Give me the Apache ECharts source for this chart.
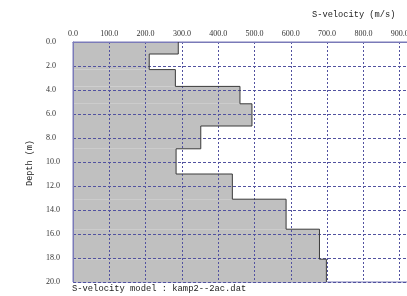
<!DOCTYPE html>
<html>
<head>
<meta charset="utf-8">
<script src="https://cdn.jsdelivr.net/npm/echarts@6/dist/echarts.min.js"></script>
<style>
html,body{margin:0;padding:0;background:#fff;}
#chart{width:407px;height:296px;}
</style>
</head>
<body>
<div id="chart"></div>
<script>
// Layer boundaries (depth, m) and S-velocity of each layer (m/s)
var depthBoundaries = [0, 1.0, 2.3, 3.7, 5.15, 7.0, 8.9, 11.0, 13.1, 15.6, 18.1, 20.0];
var velocity = [290, 210, 282, 460, 493, 352, 284, 439, 587, 679, 698];
var titleText = 'S-velocity (m/s)';
var yName = 'Depth (m)';
var footText = 'S-velocity model : kamp2--2ac.dat';

var rectData = velocity.map(function (v, i) {
  return [v, depthBoundaries[i], depthBoundaries[i + 1]];
});
var outline = [];
velocity.forEach(function (v, i) {
  outline.push([v, depthBoundaries[i]]);
  outline.push([v, depthBoundaries[i + 1]]);
});

var labelFont = 'Liberation Serif';
var monoFont = 'Liberation Mono';
var gridColor = '#5252a0';
var borderColor = '#7a7ab8';

var chart = echarts.init(document.getElementById('chart'));
chart.setOption({
  animation: false,
  backgroundColor: '#fff',
  grid: {
    left: 73, top: 42, width: 363, height: 240,
    show: true, borderColor: borderColor, borderWidth: 1, backgroundColor: 'transparent',
    containLabel: false, outerBoundsMode: 'none'
  },
  xAxis: {
    type: 'value', position: 'top', min: 0, max: 1000, interval: 100, z: 3,
    axisLine: { show: true, lineStyle: { color: borderColor, width: 1 } },
    axisTick: { show: false },
    axisLabel: {
      margin: 4, fontSize: 8, color: '#333', fontFamily: labelFont,
      formatter: function (v) { return v.toFixed(1); }
    },
    splitLine: { show: true, lineStyle: { color: gridColor, width: 1, type: [2, 2] } }
  },
  yAxis: {
    type: 'value', min: 0, max: 20, interval: 2, inverse: true, z: 3,
    axisLine: { show: true, lineStyle: { color: borderColor, width: 1 } },
    axisTick: { show: false },
    axisLabel: {
      margin: 27, align: 'left', fontSize: 8, color: '#333', fontFamily: labelFont,
      formatter: function (v) { return v.toFixed(1); }
    },
    splitLine: { show: true, lineStyle: { color: gridColor, width: 1, type: [3, 2] } }
  },
  series: [
    {
      type: 'custom',
      z: 1,
      data: rectData,
      encode: { x: 0, y: [1, 2] },
      renderItem: function (params, api) {
        var v = api.value(0), top = api.value(1), bot = api.value(2);
        var p1 = api.coord([0, top]);
        var p2 = api.coord([v, bot]);
        return {
          type: 'rect',
          shape: { x: p1[0], y: p1[1], width: p2[0] - p1[0], height: p2[1] - p1[1] },
          style: { fill: '#c0c0c0', stroke: null }
        };
      }
    },
    {
      type: 'line',
      z: 4,
      data: outline,
      symbol: 'none',
      lineStyle: { color: '#3a3a3a', width: 1 }
    }
  ],
  graphic: [
    {
      type: 'text', left: 312, top: 10, z: 10,
      style: { text: titleText, fontSize: 8.7, fontFamily: monoFont, fill: '#222' }
    },
    {
      type: 'text', left: 72, top: 284, z: 10,
      style: { text: footText, fontSize: 8.8, fontFamily: monoFont, fill: '#222' }
    },
    {
      type: 'text', x: 30, y: 163, rotation: Math.PI / 2, z: 10,
      style: { text: yName, fontSize: 8.5, fontFamily: monoFont, fill: '#222', align: 'center', verticalAlign: 'middle' }
    }
  ]
});
</script>
</body>
</html>
